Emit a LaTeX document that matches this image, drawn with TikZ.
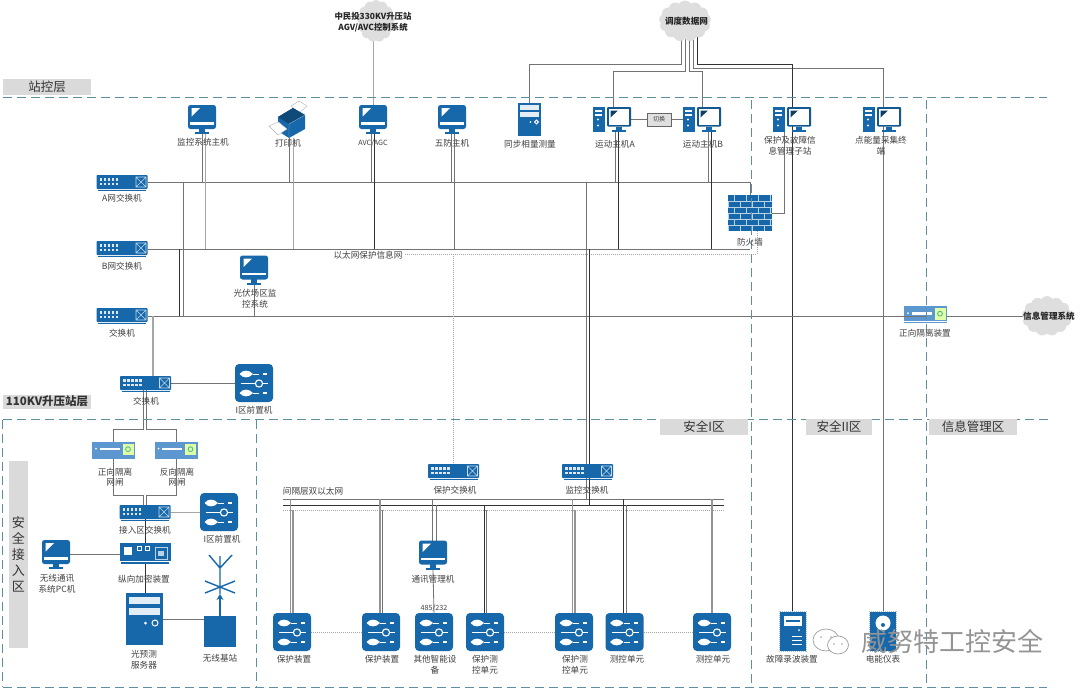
\documentclass[tikz,border=0pt]{standalone}
\usepackage{fontspec}
\setmainfont{Noto Sans CJK SC}
\usetikzlibrary{shapes.symbols,arrows.meta}
\definecolor{ib}{HTML}{1668AB}
\definecolor{ibl}{HTML}{5C97CF}
\definecolor{dash}{HTML}{5F8EA3}
\definecolor{lg}{HTML}{DADADA}
\definecolor{txt}{HTML}{404040}
\pgfdeclarelayer{bg}
\pgfsetlayers{bg,main}
\tikzset{
 box/.style={inner sep=0,outer sep=0,minimum width=#1},
 con/.style={draw=black!55,line width=.8pt},
 cond/.style={draw=black!80,line width=.8pt},
 conl/.style={draw=black!35,line width=.9pt},
 cont/.style={draw=black!42,line width=1.5pt},
 dots/.style={draw=black!35,line width=.6pt,dash pattern=on 1pt off 1pt},
 zone/.style={draw=dash,line width=1pt,dash pattern=on 9pt off 5pt},
 lbl/.style={font=\fontsize{8.6}{10.6}\selectfont,text=txt,align=center,inner sep=0},
 boldl/.style={font=\fontsize{8.6}{10.6}\selectfont\bfseries,text=black!85,align=center,inner sep=0},
 tag/.style={fill=lg,inner sep=0,font=\fontsize{12.5}{14}\selectfont,text=black!80,align=center},
 cl/.style={cloud,cloud puffs=13,cloud puff arc=110,fill=black!13,draw=none,inner sep=0,outer sep=0},
 pics/monpic/.style={code={
  \fill[ib,rounded corners=2.5pt] (-14,-14.5) rectangle (14,9.5);
  \fill[white] (-10.5,-11.5)--(-2,-11.5)--(-10.5,-3)--cycle;
  \fill[white] (-12,2.5) rectangle (12,5);
  \fill[ib] (-3,9) rectangle (3,13);
  \fill[ib] (-7,12.5) rectangle (7,14.5);}},
 pics/twrpic/.style={code={
  \fill[ib] (-19,-12.5) rectangle (-7.5,12.5);
  \fill[white] (-17,-10) rectangle (-10,-8);
  \fill[white] (-17,-6) rectangle (-10,-4);
  \fill[white] (-14,0) circle (1.1); \fill[white] (-14,6) circle (1.1);
  \fill[ib!85!black,rounded corners=1pt] (-5,-12.5) rectangle (19,7);
  \fill[white] (-3,-10.5) rectangle (17,5);
  \fill[ib!60!black] (-1.5,-9)--(6,-9)--(-1.5,-2)--cycle;
  \fill[ib] (4,7) rectangle (10,10);
  \fill[ib] (0,10) rectangle (14,12.5);}},
 pics/swpic/.style={code={
  \fill[ib,rounded corners=.8pt] (-25.5,-7) rectangle (25.5,7);
  \foreach \x in {-21,-17,-13,-9,-5}{\fill[white!85!ib] (\x-1.3,-3.6) rectangle (\x+1.3,-1.4);
    \fill[white!85!ib] (\x-1.3,.6) rectangle (\x+1.3,2.8);}
  \draw[white!75!ib,line width=.6pt] (14,-5) rectangle (24,5) (14,-5)--(24,5) (14,5)--(24,-5);
  \fill[ib] (-24,8) rectangle (24,9.2);}},
 pics/ctlpic/.style={code={
  \fill[ib,rounded corners=4pt] (-19,-19) rectangle (19,19);
  \foreach \y in {-9,10}{
   \fill[white] (-14.5,\y) .. controls (-11,\y-4.5) and (-5,\y-4.5) .. (-1,\y) .. controls (-5,\y+4.5) and (-11,\y+4.5) .. (-14.5,\y)--cycle;
   \draw[white,line width=.7pt] (-1,\y)--(5,\y);
   \fill[white] (9,\y-1) rectangle (13,\y+1);}
  \draw[white,line width=1pt] (-13,.5)--(14,.5);
  \fill[ib] (5,.5) circle (3.6);
  \draw[white,line width=1.1pt] (5,.5) circle (3.6);}},
 pics/isopic/.style={code={
  \fill[ibl] (-21.5,-8.5) rectangle (21.5,6.5);
  \fill[white] (-14,-2.5) rectangle (6,0);
  \fill[white] (-17.5,-1.3) circle (1);
  \fill[green!35!yellow!35!white] (9,-6.5) rectangle (20,5);
  \draw[ibl!70!green,line width=.8pt] (14.5,-.8) circle (2.4);
  \fill[ibl] (-21.5,7.2) rectangle (21.5,8.8);}},
 pics/encpic/.style={code={
  \fill[ib] (-25.5,-10) rectangle (25.5,8);
  \fill[white] (-21,-6) rectangle (-13,2);
  \draw[white,line width=.7pt] (-7.5,-7) rectangle (-3.5,-3) (0,-7) rectangle (4,-3);
  \draw[white!70!ib,line width=.7pt] (10,-5.5) rectangle (22,6);
  \fill[white!70!ib] (13,-2) rectangle (19,3);
  \fill[ib] (-24,9.3) rectangle (24,10.8);}},
 pics/srvpic/.style={code={
  \fill[ib] (-18.5,-26) rectangle (18.5,26);
  \fill[white!88!ib] (-15.5,-22.5) rectangle (15.5,-15);
  \fill[white!88!ib] (-15.5,-11.5) rectangle (15.5,-4);
  \fill[white] (1.5,4) circle (1.5);
  \draw[white,line width=1pt] (11,4) circle (3);}},
 pics/fwpic/.style={code={
  \fill[ib] (-22,-18) rectangle (22,18);
  \foreach \y in {-12,-6,0,6,12}{\draw[white!70!ib,line width=.9pt] (-22,\y)--(22,\y);}
  \foreach \y/\o in {-15/0,-9/6,-3/0,3/6,9/0,15/6}{
    \foreach \x in {-16,-4,8,20}{\draw[white!70!ib,line width=.9pt] (\x-\o,\y-3)--(\x-\o,\y+3);}}}},
 pics/prnpic/.style={code={
  \fill[white,draw=black!30,line width=.4pt] (3,-14)--(11,-19)--(19,-14)--(11,-7)--cycle;
  \fill[ib] (-10,-3)--(5,-12)--(17,-5)--(17,9)--(1,18)--(-10,11)--cycle;
  \fill[ib!70!black] (-10,-3)--(5,-12)--(17,-5)--(1,4)--cycle;
  \draw[white!50!ib,line width=.4pt] (1,4)--(1,18) (1,4)--(17,-5);
  \fill[white,draw=black!30,line width=.4pt] (-19,6)--(-9.5,2)--(-1,9)--(-10,15)--cycle;}},
 pics/recpic/.style={code={
  \fill[ib] (-13,-19.5) rectangle (13,19.5);
  \draw[white!60!ib,line width=.7pt,dash pattern=on 1pt off 1pt] (-13.5,-20) rectangle (13.5,20);
  \fill[white] (-9,-15) rectangle (9,-5);
  \fill[ib] (-7,-11) rectangle (7,-9);
  \fill[white] (6.5,-1) circle (1);
  \foreach \y in {5,9,13}{\draw[white,line width=.8pt] (-1,\y)--(9,\y);}}},
 pics/metpic/.style={code={
  \fill[ib] (-13,-19.5) rectangle (13,19.5);
  \draw[white!60!ib,line width=.7pt,dash pattern=on 1pt off 1pt] (-13.5,-20) rectangle (13.5,20);
  \fill[white] (0,-8) circle (7.5);
  \fill[ib] (0,-6) circle (2);}},
}
\newcommand{\icon}[6]{% name x y w h pic
 \node[box=#4,minimum height=#5] (#1) at (#2,#3) {}; \pic at (#2,#3) {#6};}
\newcommand{\drop}[4][con]{\draw[#1] ([xshift=#3pt]#2) -- ([xshift=#3pt]#2 |- #4);}
\begin{document}
\begin{tikzpicture}[x=1pt,y=-1pt]
\useasboundingbox (0,0) rectangle (1080,689);
\begin{pgfonlayer}{bg}
\fill[white] (0,0) rectangle (1080,689);
\end{pgfonlayer}
% named rails
\coordinate (busA) at (0,182);
\coordinate (busB) at (0,249);
\coordinate (busC) at (0,316);
\coordinate (bay1) at (0,499);
\coordinate (bay2) at (0,505);
\coordinate (bay3) at (0,510);
\coordinate (bayL) at (283,499);
\coordinate (bayR) at (724,499);
\coordinate (ethS) at (405,254);
\coordinate (t64) at (0,64);
\coordinate (t68) at (0,68);
\coordinate (t71) at (0,71);
\coordinate (t429) at (0,429);
\coordinate (t495) at (0,495);
% zones
\draw[zone] (3,97)--(1047,97);
\draw[zone] (3,419.5)--(1050,419.5);
\draw[zone] (3,687)--(1047,687);
\draw[zone] (2.5,420)--(2.5,687);
\draw[zone] (256,420)--(256,687);
\node[tag,minimum width=88,minimum height=16] (t1) at (47,87) {站控层};
\node[tag,minimum width=88,minimum height=14,font=\fontsize{11.5}{14}\selectfont\bfseries] (t2) at (47,401.5) {110KV升压站层};
\node[tag,minimum width=88,minimum height=16] (t3) at (704,427) {安全I区};
\node[tag,minimum width=66,minimum height=16] (t4) at (839,427) {安全II区};
\node[tag,minimum width=88,minimum height=16] (t5) at (973,427) {信息管理区};
\node[tag,minimum width=19,minimum height=187,font=\fontsize{13}{16}\selectfont] (t6) at (18.5,554.5) {安\\全\\接\\入\\区};
% clouds
\node[cl,minimum width=38,minimum height=42] (cloudA) at (376,21) {};
\node[cl,minimum width=52,minimum height=41] (cloudB) at (685,21) {};
\node[cl,minimum width=50,minimum height=40] (cloudC) at (1047,316) {};
% station layer
\icon{mMon}{202}{119.5}{28}{29}{monpic}
\node[box=34,minimum height=36] (mPrn) at (288,120) {}; \pic at (288,120) {prnpic};
\icon{mAvc}{373}{119.5}{28}{29}{monpic}
\icon{mFive}{452}{119.5}{28}{29}{monpic}
\node[box=23,minimum height=33] (mSync) at (529.5,119.5) {}; \pic[scale=.63] at (529.5,119.5) {srvpic};
\icon{mMotA}{612}{119.5}{38}{25}{twrpic}
\icon{mMotB}{702}{119.5}{38}{25}{twrpic}
\icon{mProt}{792}{119.5}{38}{25}{twrpic}
\icon{mEng}{882}{119.5}{38}{25}{twrpic}
\node[draw=black!60,fill=black!12,line width=.5pt,minimum width=24,minimum height=13,inner sep=0,font=\fontsize{6}{7}\selectfont,text=txt] (sw1) at (659,119.5) {切换};
\icon{fw}{750}{213}{44}{36}{fwpic}
\icon{swA}{122}{182}{51}{14}{swpic}
\icon{swB}{122}{248}{51}{14}{swpic}
\icon{swC}{122}{315}{51}{14}{swpic}
\icon{mPv}{254}{270}{28}{29}{monpic}
\icon{isoN}{925.5}{314.5}{43}{17}{isopic}
% 110kV layer
\icon{sw4}{145.5}{383}{51}{14}{swpic}
\icon{ct0}{254}{383}{38}{38}{ctlpic}
\icon{iso1}{113.5}{450}{43}{17}{isopic}
\icon{iso2}{176}{450}{43}{17}{isopic}
\icon{swAcc}{145}{512}{51}{14}{swpic}
\icon{ct1}{219}{512}{38}{38}{ctlpic}
\icon{enc}{145}{553}{51}{20}{encpic}
\icon{mWl}{56}{554.5}{28}{29}{monpic}
\icon{srv}{144}{619}{37}{52}{srvpic}
\node[box=32,minimum height=31,fill=ib] (bts) at (220,631.5) {};
\coordinate (antTop) at (220,568);
% bay layer
\icon{swP}{453.5}{471}{51}{14}{swpic}
\icon{swM}{587.5}{471}{51}{14}{swpic}
\icon{mCom}{433}{555}{28}{29}{monpic}
\icon{d1}{292}{632}{38}{38}{ctlpic}
\icon{d2}{381}{632}{38}{38}{ctlpic}
\icon{d3}{434}{632}{38}{38}{ctlpic}
\icon{d4}{485}{632}{38}{38}{ctlpic}
\icon{d5}{574}{632}{38}{38}{ctlpic}
\icon{d6}{624.5}{632}{38}{38}{ctlpic}
\icon{d7}{712}{632}{38}{38}{ctlpic}
\icon{rec}{792.5}{631}{27}{40}{recpic}
\icon{met}{883}{631}{27}{40}{metpic}
% connectors behind the icons
\begin{pgfonlayer}{bg}
\draw[conl] (cloudA.center -| mAvc.north) -- (mAvc.north);
\draw[con] ([xshift=-4pt]cloudB.center) -- ([xshift=-4pt]cloudB.center |- t64) -- (mSync.north |- t64) -- (mSync.north);
\draw[con] (cloudB.center) -- (cloudB.center |- t71) -- ([xshift=1pt]mMotA.north |- t71) -- ([xshift=1pt]mMotA.north);
\draw[con] ([xshift=4pt]cloudB.center) -- ([xshift=4pt]cloudB.center |- t71) -- (mMotB.north |- t71) -- (mMotB.north);
\draw[con] ([xshift=8pt]cloudB.center) -- ([xshift=8pt]cloudB.center |- t68) -- (met.north |- t68) -- (met.north);
\draw[cond] ([xshift=12.5pt]cloudB.center) -- ([xshift=12.5pt]cloudB.center |- t64) -- (rec.north |- t64) -- (rec.north);
\draw[con] (mMotA.east) -- (sw1.west);
\draw[con] (sw1.east) -- (mMotB.west);
% rails
\draw[con,line width=1pt] (swA.east) -- (fw.north |- swA.east) -- (fw.north);
\draw[con,line width=1pt] (swB.east |- busB) -- (fw.south |- busB);
\draw[dots] (ethS) -- (757,0 |- ethS) -- (757,0 |- fw.south);
\draw[con] ([xshift=-8pt]mProt.south) |- (fw.east);
\draw[con,line width=1pt] (swC.east |- busC) -- (cloudC.center);
% drops from the hosts
\drop{mMon.south}{0}{busA}
\drop[conl]{mMon.south}{3}{busB}
\drop{mPrn.south}{1}{busA}
\drop[conl]{mPrn.south}{5}{busB}
\drop{mAvc.south}{-2}{busA}
\drop[cond]{mAvc.south}{1.5}{busB}
\drop{mFive.south}{-1}{busA}
\drop[con]{mFive.south}{2}{busB}
\drop{mMotA.south}{3}{busA}
\drop[cond]{mMotA.south}{6}{busB}
\drop{mMotB.south}{6}{busA}
\drop[cond]{mMotB.south}{9}{busB}
% tie lines
\draw[con] (183,0 |- busA) -- (183,0 |- busC);
\draw[cond] (179,0 |- busB) -- (179,0 |- busC);
\draw[con] (mPv.south) -- (mPv.south |- busC);
\draw[conl,line width=1.1pt] (153,0 |- busC) -- (153,0 |- sw4.north);
\draw[con] (sw4.east) -- (ct0.west);
\draw[dots] (swP.north |- ethS) -- (swP.north);
\draw[con] ([xshift=-1.5pt]swM.north |- busA) -- ([xshift=-1.5pt]swM.north);
\draw[cond] ([xshift=1.5pt]swM.north |- busB) -- ([xshift=1.5pt]swM.north);
% access area
\draw[con] ([xshift=-2.5pt]sw4.south) -- ([xshift=-2.5pt]sw4.south |- t429) -- (iso1.north |- t429) -- (iso1.north);
\draw[con] ([xshift=1pt]sw4.south) -- ([xshift=1pt]sw4.south |- t429) -- (iso2.north |- t429) -- (iso2.north);
\draw[con] (iso1.south) -- (iso1.south |- t495) -- ([xshift=-2pt]swAcc.north |- t495) -- ([xshift=-2pt]swAcc.north);
\draw[con] (iso2.south) -- (iso2.south |- t495) -- ([xshift=1pt]swAcc.north |- t495) -- ([xshift=1pt]swAcc.north);
\draw[conl] (swAcc.east) -- (ct1.west);
\draw[cond] (swAcc.south) -- (enc.north);
\draw[cond] (enc.south) -- (enc.south |- srv.north);
\draw[con] (mWl.east) -- (mWl.east -| enc.west);
\draw[con] (srv.east) -- (srv.east -| bts.west);
% bay rails
\draw[con,line width=1pt] (bayL) -- (bayR);
\draw[cond,line width=1pt] (bayL |- bay2) -- (bayR |- bay2);
\draw[dots,line width=.8pt] (bayL |- bay3) -- (bayR |- bay3);
\draw[con] ([xshift=-1.5pt]swM.south) -- ([xshift=-1.5pt]swM.south |- bay1);
\draw[cond] ([xshift=1.5pt]swM.south) -- ([xshift=1.5pt]swM.south |- bay2);
\draw[con] (432,0 |- mCom.north) -- (432,0 |- bay1);
\draw[con] (436,0 |- mCom.north) -- (436,0 |- bay2);
\draw[con] (mCom.south) -- (d3.north);
\draw[cont] ([xshift=-1.5pt]d1.north) -- ([xshift=-1.5pt]d1.north |- bay1);
\draw[cont] ([xshift=1pt]d1.north) -- ([xshift=1pt]d1.north |- bay3);
\draw[cont] ([xshift=-1pt]d2.north) -- ([xshift=-1pt]d2.north |- bay1);
\draw[con] ([xshift=1.5pt]d2.north) -- ([xshift=1.5pt]d2.north |- bay3);
\draw[cond] ([xshift=-1pt]d4.north) -- ([xshift=-1pt]d4.north |- bay2);
\draw[con] ([xshift=1.5pt]d4.north) -- ([xshift=1.5pt]d4.north |- bay3);
\draw[cont] ([xshift=-1.5pt]d5.north) -- ([xshift=-1.5pt]d5.north |- bay1);
\draw[cont] ([xshift=1pt]d5.north) -- ([xshift=1pt]d5.north |- bay3);
\draw[cond] ([xshift=-1.5pt]d6.north) -- ([xshift=-1.5pt]d6.north |- bay1);
\draw[con] ([xshift=1.5pt]d6.north) -- ([xshift=1.5pt]d6.north |- bay2);
\draw[cont] (d7.north) -- (d7.north |- bay1);
\draw[dots] (d1.east) -- (d2.west);
\draw[dots] (d4.east) -- (d5.west);
\draw[dots] (d6.east) -- (d7.west);
\end{pgfonlayer}
% antenna
\draw[ib,line width=1.4pt,-{Stealth[length=6pt,width=7pt]}] (bts.north) -- (220,594);
\draw[ib,line width=1.4pt] (220,594)--(antTop) (antTop)--(220,556) (antTop)--(209,555) (antTop)--(232,555) (205,581)--(235,593) (205,593)--(235,581);
% zone rules that run over the icons
\draw[zone] (751,100)--(751,687);
\draw[zone] (926.5,100)--(926.5,687);
\draw[con,line width=.8pt] (isoN.west |- busC) -- (isoN.center |- busC);
% labels
\node[boldl,font=\fontsize{8.4}{10.4}\selectfont\bfseries] (c1) at (373,22) {中民投330KV升压站\\AGV/AVC控制系统};
\node[boldl] (c2) at (686.5,21) {调度数据网};
\node[boldl] (c3) at (1049,316) {信息管理系统};
\foreach \n/\x/\y/\t in {
 l1/203/142/监控系统主机, l2/288/143/打印机, l4/452/143/五防主机,
 l5/530/144/同步相量测量, l6/615/144/运动主机A, l7/703/144/运动主机B,
 l8/750/242/防火墙, l9/122/198/A网交换机, l10/122/266/B网交换机, l11/122/333/交换机,
 l12/368/255/以太网保护信息网, l13/925/333/正向隔离装置, l14/146/401/交换机, l15/254/410/I区前置机,
 l16/145/530/接入区交换机, l17/222/539/I区前置机, l18/144/579/纵向加密装置, l19/220/658/无线基站,
 l20/313/491/间隔层双以太网, l21/455/490/保护交换机, l22/587/490/监控交换机, l23/433/579/通讯管理机,
 l24/294/659/保护装置, l25/382/659/保护装置, l26/627/659/测控单元, l27/713/659/测控单元,
 l28/792/659/故障录波装置, l29/883/659/电能仪表}
 {\node[lbl] (\n) at (\x,\y) {\t};}
\node[lbl,font=\fontsize{7.2}{9}\selectfont] (l3) at (373,143) {AVC/AGC};
\node[lbl] (l30) at (790,146) {保护及故障信\\息管理子站};
\node[lbl] (l31) at (881,146) {点能量采集终\\端};
\node[lbl] (l32) at (255,298.5) {光伏场区监\\控系统};
\node[lbl] (l33) at (115,477) {正向隔离\\网闸};
\node[lbl] (l34) at (177,477) {反向隔离\\网闸};
\node[lbl] (l35) at (57,583.5) {无线通讯\\系统PC机};
\node[lbl] (l36) at (144,659.5) {光预测\\服务器};
\node[lbl] (l37) at (435,664.5) {其他智能设\\备};
\node[lbl] (l38) at (485,664.5) {保护测\\控单元};
\node[lbl] (l39) at (575,664.5) {保护测\\控单元};
\node[lbl,font=\fontsize{7.2}{9}\selectfont] (l40) at (434,608) {485/232};
% watermark
\begin{scope}[draw=black!38,fill=white,line width=.7pt]
\filldraw (826,640) ellipse (13 and 11);
\filldraw (838,645) ellipse (10.5 and 9);
\end{scope}
\foreach \p in {(821,637),(831,637),(834,644),(842,644)}{\fill[black!38] \p circle (.9);}
\node[inner sep=0,font=\fontsize{26}{30}\selectfont,text=black!42] (wm) at (952,642) {威努特工控安全};
\end{tikzpicture}
\end{document}
